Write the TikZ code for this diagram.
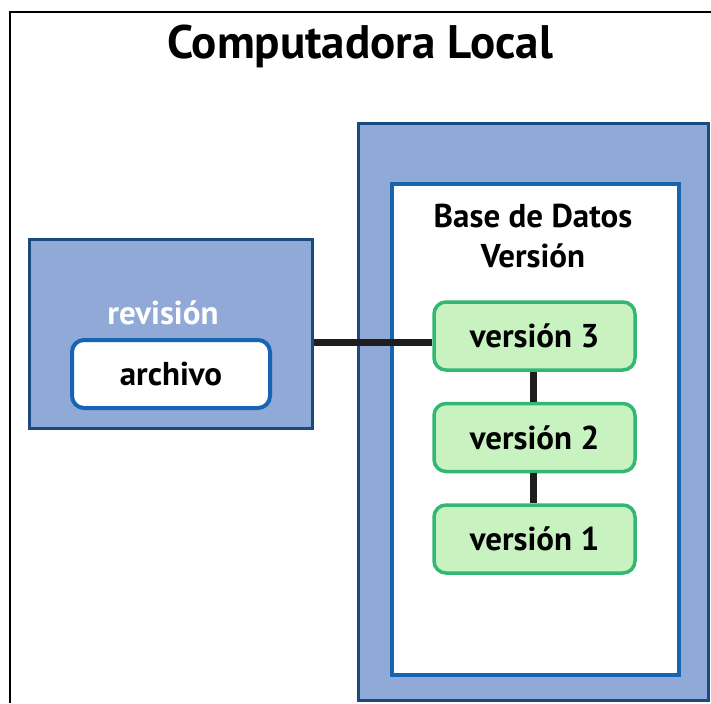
\documentclass[tikz,border=0pt]{standalone}
\usepackage{fontspec}
\setmainfont{PT Sans}
\usetikzlibrary{positioning}

\definecolor{boxfill}{HTML}{90A9D6}
\definecolor{boxline}{HTML}{1A4A80}
\definecolor{dbline}{HTML}{1565B4}
\definecolor{verfill}{HTML}{C8F3C0}
\definecolor{verline}{HTML}{33B874}
\definecolor{linkcol}{HTML}{1E1E1E}

\begin{document}
\begin{tikzpicture}[
                x=1pt,y=-1pt,
                node distance=30pt,
                every node/.append style={inner sep=0pt},
                label font/.style={font=\bfseries\fontsize{33}{40}\selectfont},
                box/.style={rectangle,draw=boxline,fill=boxfill,line width=3pt},
                dbbox/.style={rectangle,draw=dbline,fill=white,line width=4pt},
                filebox/.style={rectangle,rounded corners=12pt,draw=dbline,fill=white,line width=4pt,
                    minimum width=198pt,minimum height=68pt,label font},
                verbox/.style={rectangle,rounded corners=12pt,draw=verline,fill=verfill,line width=3.5pt,
                    minimum width=201pt,minimum height=68pt,label font},
                link/.style={draw=linkcol,line width=7pt}
            ]
                \useasboundingbox (0,0) rectangle (711,703);
                \draw[line width=1.5pt] (10,703) -- (10,12) -- (711,12);
                \node (title) at (360,46) {\bfseries\fontsize{47}{50}\selectfont Computadora Local};

                % working copy on the left
                \node[box,minimum width=283pt,minimum height=189pt] (rev) at (171,334) {};
                \node[text=white,label font] (revlbl) at (163,313) {revisión};
                \node[filebox] (file) at (171,374) {archivo};

                % version database on the right
                \node[box,minimum width=350pt,minimum height=577pt] (local) at (533.5,412) {};
                \node[dbbox,minimum width=287pt,minimum height=491pt] (db) at (535.5,429.5) {};
                \node[align=center,label font] (dblbl) at (533,236) {Base de Datos\\Versión};

                \node[verbox] (v3) at (534.5,336) {versión 3};
                \node[verbox] (v2) [below=of v3] {versión 2};
                \node[verbox] (v1) [below=of v2] {versión 1};

                \coordinate (joint) at ([yshift=-6pt]v3.west);
                \draw[link] (rev.east |- joint) -- (joint);
                \draw[link] ([xshift=-1.5pt]v3.south) -- ([xshift=-1.5pt]v2.north);
                \draw[link] ([xshift=-1.5pt]v2.south) -- ([xshift=-1.5pt]v1.north);
            \end{tikzpicture}
\end{document}
